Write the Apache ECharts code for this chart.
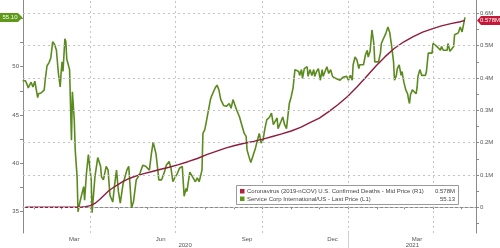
<!DOCTYPE html>
<html><head><meta charset="utf-8">
<script src="https://cdn.jsdelivr.net/npm/echarts@6/dist/echarts.min.js"></script>
<style>html,body{margin:0;padding:0;background:#fff}#c{width:500px;height:248px}</style>
</head><body><div id="c"></div>
<script>
// x values: days since 2020-01-01
const scDays = [19,22,24,25,27,28,29,30,32,33,35,36,37,39,42,43,45,47,49,51,53,55,57,59,60,61,62,64,65,66,69,70,71,72,74,75,77,78,80,82,84,85,87,89,92,93,96,99,102,103,105,108,110,112,115,117,119,121,123,126,130,132,135,137,140,142,144,147,150,152,154,156,158,161,163,164,167,170,172,174,175,177,179,181,184,186,189,191,193,194,197,200,203,205,207,210,211,213,215,217,219,220,224,226,228,230,233,235,236,239,241,243,245,247,250,252,255,257,258,260,262,264,267,269,271,273,275,277,279,282,284,286,288,290,291,294,296,298,300,302,303,305,307,308,309,311,313,314,316,317,319,322,323,325,327,329,330,332,334,336,338,339,341,343,345,347,349,352,354,357,360,362,364,366,368,370,371,373,375,377,378,380,382,384,386,387,389,391,393,394,396,398,400,401,403,406,408,410,412,414,415,417,418,420,422,423,425,427,429,430,431,432,434,436,438,439,440,442,444,446,448,449,451,453,455,456,458,460,462,464,465,467,469,471,472,474,476,478,479,481,483,485,487,488,490];
const scPrice = [48.55,48.55,48.1,47.8,47.6,48.4,48.2,47.9,48.5,48.4,46.8,47.2,47.1,47.3,47.6,48.6,50.1,50.4,50.9,52.6,52.3,51.7,49.4,47.9,49.4,50.5,49.5,52.9,52.6,50.8,49.7,49.5,42.4,47.4,44.5,41.4,38.6,35.0,36.0,36.0,37.6,36.2,39.0,40.9,38.3,34.9,38.6,40.6,39.7,38.6,38.3,39.7,39.3,36.7,36.0,37.8,39.3,37.1,35.9,37.9,39.3,39.7,35.4,36.0,38.3,38.6,39.0,39.8,39.7,39.8,39.3,40.9,42.2,41.0,39.3,38.3,38.3,39.1,39.8,39.7,40.2,39.5,38.1,38.5,39.0,39.5,39.7,36.6,37.4,37.1,39.1,38.6,38.1,38.5,38.1,39.3,43.1,43.5,44.5,44.3,46.6,46.9,47.8,48.1,47.6,46.6,46.0,46.2,45.9,46.2,45.7,46.6,46.6,45.5,44.8,44.1,43.1,42.8,41.4,40.7,40.1,40.3,41.6,42.4,43.1,42.1,42.4,43.6,44.5,44.8,45.2,44.0,43.8,44.7,43.6,44.3,44.8,44.0,43.6,43.8,46.2,46.9,47.8,48.8,49.7,49.8,49.5,49.1,49.7,48.8,49.8,50.0,49.0,49.7,49.1,49.7,49.0,49.5,49.8,48.6,49.7,49.0,49.5,50.0,49.3,49.7,49.0,48.8,49.0,48.6,48.9,48.7,49.0,48.6,49.1,48.6,50.2,51.0,50.7,49.8,50.2,50.0,50.2,51.2,51.7,51.0,51.6,53.8,52.4,50.5,50.7,50.5,51.4,52.4,52.6,53.5,54.1,53.5,52.1,50.5,48.6,49.1,49.8,50.2,49.1,49.5,48.4,47.6,47.2,46.6,46.2,47.1,47.6,47.8,47.2,47.8,49.0,49.7,49.1,49.0,49.1,49.5,51.4,51.2,51.4,52.4,52.2,52.1,51.9,51.7,52.1,51.7,51.9,51.7,52.4,51.6,51.7,52.1,53.3,53.1,53.5,54.1,53.6,53.5,55.1];
const deathDays = [22,60,75,82,86,91,96,101,106,111,116,121,126,131,136,141,148,156,165,175,185,195,205,215,225,235,245,255,265,275,285,295,305,315,325,335,345,355,365,375,385,395,405,415,425,435,445,455,465,475,485,490];
const deathsK = [0,0,0.1,0.8,2,5,12,24,38,52,62,71,80,87,93,98,104,110,117,124,132,141,151,163,173,183,191,198,204,211,219,227,236,247,262,276,296,318,343,372,404,436,466,492,512,528,542,552,561,568,574,578];
const monthLabelDays = [74,166,258,349,439];
const monthLabels = ['Mar','Jun','Sep','Dec','Mar'];
const monthStartDays = [31,60,91,121,152,182,213,244,274,305,335,366,397,425,456,486];
const quarterDays = [91,182,274,366,456];
const yearLabelDays = [192,434];
const yearLabels = ['2020','2021'];
const yearDividerDays = [366];
const leftLabels = [35,40,45,50];
const leftTicks = [35,37.5,40,42.5,45,47.5,50,52.5,55];
const rightLabelsK = [0,100,200,300,400,500,600];
const rightTicksK = [-50,0,50,100,150,200,250,300,350,400,450,500,550,600];
const lastDeathsLabel = '0.578M';
const badgePrice = 55.10;
const legendPrice = '55.13';
const legendNames = ['Coronavirus (2019-nCOV) U.S. Confirmed Deaths - Mid Price (R1)', 'Service Corp International/US - Last Price (L1)'];

const GREEN = '#5b8b1f', RED = '#8e1c3c', BADGE_RED = '#c41838', BADGE_GREEN = '#5e9a17';
const FONT = 'Liberation Sans';
const axisGray = '#8a8a8a', labelGray = '#555';

const chart = echarts.init(document.getElementById('c'), null, {renderer: 'canvas'});
const fmtRight = v => v === 0 ? '0' : (v / 1000) + 'M';
chart.setOption({
  animation: false,
  textStyle: {fontFamily: FONT},
  grid: {left: 23, right: 24, top: 0, bottom: 15, containLabel: false},
  xAxis: [{
    type: 'value', min: 19.4, max: 501.8,
    axisLine: {show: true, lineStyle: {color: axisGray, width: 1}},
    axisTick: {show: true, customValues: monthStartDays, length: 2, lineStyle: {color: axisGray}},
    axisLabel: {customValues: monthLabelDays, formatter: v => monthLabels[monthLabelDays.indexOf(v)], fontSize: 6, color: labelGray, margin: 3},
    splitLine: {show: false}
  }, {
    type: 'value', min: 19.4, max: 501.8, position: 'bottom',
    axisLine: {show: false},
    axisTick: {show: true, customValues: yearDividerDays, length: 15, lineStyle: {color: '#d0d0d0'}},
    axisLabel: {customValues: yearLabelDays, formatter: v => yearLabels[yearLabelDays.indexOf(v)], fontSize: 6, color: labelGray, margin: 9},
    splitLine: {show: false}
  }],
  yAxis: [{
    type: 'value', position: 'left', min: 32.8, max: 56.9,
    axisLine: {show: true, lineStyle: {color: axisGray}},
    axisTick: {show: true, customValues: leftTicks, length: 3, lineStyle: {color: axisGray}},
    axisLabel: {customValues: leftLabels, fontSize: 6, color: labelGray, margin: 4},
    splitLine: {show: false}
  }, {
    type: 'value', position: 'right', min: -79.5, max: 641.2,
    axisLine: {show: true, lineStyle: {color: axisGray}},
    axisTick: {show: true, customValues: rightTicksK, length: 3, lineStyle: {color: axisGray}},
    axisLabel: {customValues: rightLabelsK, formatter: fmtRight, fontSize: 6, color: labelGray, margin: 4},
    splitLine: {show: false}
  }],
  series: [{
    type: 'line', xAxisIndex: 0, yAxisIndex: 1, data: [], silent: true,
    markLine: {
      silent: true, symbol: 'none', label: {show: false},
      lineStyle: {type: [2, 3], color: '#c4c4c4', width: 1},
      data: rightLabelsK.map(v => ({yAxis: v})).concat(quarterDays.map(d => ({xAxis: d})))
    }
  }, {
    type: 'line', xAxisIndex: 0, yAxisIndex: 0, showSymbol: false, symbol: 'none',
    data: scDays.map((d, i) => [d, scPrice[i]]),
    lineStyle: {color: GREEN, width: 1.6}, itemStyle: {color: GREEN}
  }, {
    type: 'line', xAxisIndex: 0, yAxisIndex: 1, showSymbol: false, symbol: 'none',
    data: deathDays.map((d, i) => [d, deathsK[i]]),
    lineStyle: {color: RED, width: 1.4}, itemStyle: {color: RED}
  }]
});

const yL = chart.convertToPixel({yAxisIndex: 0}, badgePrice);
const yR = chart.convertToPixel({yAxisIndex: 1}, deathsK[deathsK.length - 1]);
const h = 4.5;
chart.setOption({graphic: [
  {type: 'polygon', shape: {points: [[0, yL - h], [18, yL - h], [22.5, yL], [18, yL + h], [0, yL + h]]}, style: {fill: BADGE_GREEN}, z: 100},
  {type: 'text', x: 10, y: yL, style: {text: badgePrice.toFixed(2), fill: '#fff', font: '6px ' + FONT, align: 'center', verticalAlign: 'middle'}, z: 101},
  {type: 'polygon', shape: {points: [[477, yR], [481, yR - h], [500, yR - h], [500, yR + h], [481, yR + h]]}, style: {fill: BADGE_RED}, z: 100},
  {type: 'text', x: 490, y: yR, style: {text: lastDeathsLabel, fill: '#fff', font: '6px ' + FONT, align: 'center', verticalAlign: 'middle'}, z: 101},
  {type: 'rect', shape: {x: 236.5, y: 185.5, width: 222, height: 19}, style: {fill: '#fff', stroke: '#9a9a9a', lineWidth: 1}, z: 100},
  {type: 'rect', shape: {x: 240, y: 189, width: 4.5, height: 4.5}, style: {fill: '#b3203c'}, z: 101},
  {type: 'rect', shape: {x: 240, y: 196.5, width: 4.5, height: 4.5}, style: {fill: '#5e9a17'}, z: 101},
  {type: 'text', x: 247, y: 191.5, style: {text: legendNames[0], fill: '#444', font: '6px ' + FONT, verticalAlign: 'middle'}, z: 101},
  {type: 'text', x: 247, y: 199, style: {text: legendNames[1], fill: '#444', font: '6px ' + FONT, verticalAlign: 'middle'}, z: 101},
  {type: 'text', x: 455, y: 191.5, style: {text: lastDeathsLabel, fill: '#444', font: '6px ' + FONT, align: 'right', verticalAlign: 'middle'}, z: 101},
  {type: 'text', x: 455, y: 199, style: {text: legendPrice, fill: '#444', font: '6px ' + FONT, align: 'right', verticalAlign: 'middle'}, z: 101}
]});
</script></body></html>
